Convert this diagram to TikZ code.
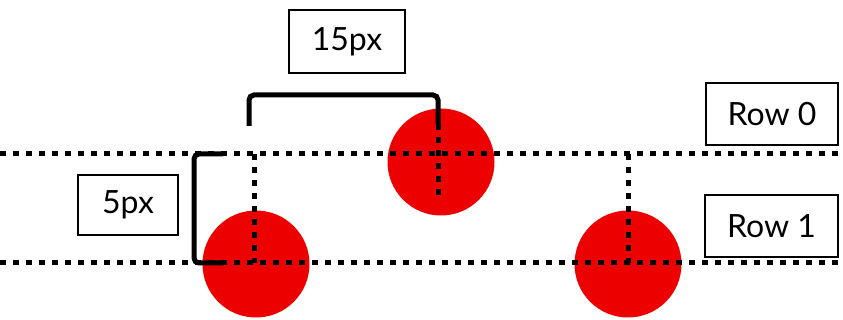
\documentclass[tikz,border=0pt]{standalone}
\usepackage{fontspec}
\setmainfont{Lato}
\definecolor{dotred}{RGB}{236,0,0}

\begin{document}
\begin{tikzpicture}[x=1pt,y=-1pt,
		dots/.style={line width=5pt, dash pattern=on 6pt off 7pt},
		bracket/.style={line width=5pt, rounded corners=5pt},
		tagbox/.style={draw, line width=1.3pt, inner sep=0pt, font=\fontsize{32}{36}\selectfont},
		dotc/.style={circle, fill=dotred, minimum size=107pt, inner sep=0pt}]
			\useasboundingbox (0,0) rectangle (843,320);
			\node[dotc] (c0) at (441,162) {};
			\node[dotc] (c1) at (256,264) {};
			\node[dotc] (c2) at (628,264) {};
			\coordinate (r0w) at (0,154);
			\coordinate (r0e) at (843,154);
			\coordinate (r1w) at (0,263);
			\coordinate (r1e) at (843,263);
			\draw[dots] (r0w) -- (r0e);
			\draw[dots] (r1w) -- (r1e);
			\draw[dots] (254,154) -- (254,263);
			\draw[dots] (628,154) -- (628,263);
			\draw[dots] (438,124) -- (438,195);
			\draw[bracket] (249,126) -- (249,95) -- (438,95) -- (438,124);
			\draw[bracket] (223,154) -- (194,154) -- (194,263) -- (223,263);
			\node[tagbox, minimum width=116pt, minimum height=63pt] (t15) at (347,41.5) {15px};
			\node[tagbox, minimum width=100pt, minimum height=60pt] (t5) at (128,205) {5px};
			\node[tagbox, minimum width=132pt, minimum height=62pt] (row0) at (772,114) {Row 0};
			\node[tagbox, minimum width=133pt, minimum height=62pt] (row1) at (771.5,226) {Row 1};
		\end{tikzpicture}
\end{document}
